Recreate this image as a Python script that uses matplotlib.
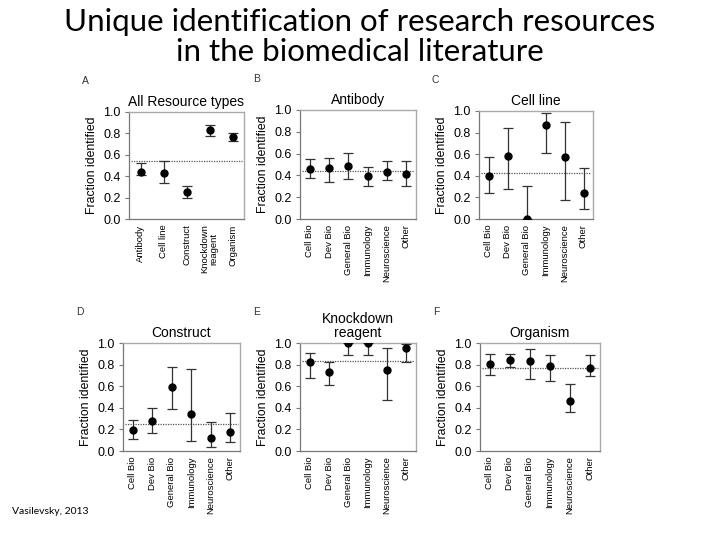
import numpy as np
import matplotlib.pyplot as plt

plt.rcParams['font.family'] = ['Liberation Sans', 'DejaVu Sans']

resource_types = ['Antibody', 'Cell line', 'Construct', 'Knockdown\nreagent', 'Organism']
fields = ['Cell Bio', 'Dev Bio', 'General Bio', 'Immunology', 'Neuroscience', 'Other']

# value, lower bound, upper bound, mean line
all_val = [0.44, 0.43, 0.25, 0.83, 0.77]
all_lo = [0.41, 0.34, 0.20, 0.78, 0.73]
all_hi = [0.52, 0.54, 0.31, 0.88, 0.80]
all_mean = 0.54

antibody_val = [0.46, 0.47, 0.49, 0.39, 0.43, 0.41]
antibody_lo = [0.38, 0.34, 0.37, 0.30, 0.36, 0.30]
antibody_hi = [0.55, 0.56, 0.61, 0.48, 0.53, 0.53]
antibody_mean = 0.44

cellline_val = [0.40, 0.58, 0.00, 0.87, 0.57, 0.24]
cellline_lo = [0.24, 0.28, 0.00, 0.61, 0.18, 0.09]
cellline_hi = [0.57, 0.84, 0.31, 0.98, 0.90, 0.47]
cellline_mean = 0.43

construct_val = [0.19, 0.28, 0.59, 0.34, 0.12, 0.18]
construct_lo = [0.11, 0.17, 0.39, 0.09, 0.04, 0.08]
construct_hi = [0.29, 0.40, 0.78, 0.76, 0.27, 0.35]
construct_mean = 0.25

knockdown_val = [0.82, 0.73, 1.00, 1.00, 0.75, 0.95]
knockdown_lo = [0.68, 0.61, 0.89, 0.89, 0.47, 0.82]
knockdown_hi = [0.91, 0.82, 1.00, 1.00, 0.95, 0.99]
knockdown_mean = 0.83

organism_val = [0.81, 0.84, 0.83, 0.79, 0.46, 0.77]
organism_lo = [0.70, 0.78, 0.67, 0.65, 0.36, 0.69]
organism_hi = [0.90, 0.90, 0.94, 0.89, 0.62, 0.89]
organism_mean = 0.77

panels = [
    ('A', 'All Resource types', resource_types, all_val, all_lo, all_hi, all_mean, [129, 112, 244, 219]),
    ('B', 'Antibody', fields, antibody_val, antibody_lo, antibody_hi, antibody_mean, [300, 110, 416, 219]),
    ('C', 'Cell line', fields, cellline_val, cellline_lo, cellline_hi, cellline_mean, [479, 111, 593, 219]),
    ('D', 'Construct', fields, construct_val, construct_lo, construct_hi, construct_mean, [123, 343, 240, 451]),
    ('E', 'Knockdown\nreagent', fields, knockdown_val, knockdown_lo, knockdown_hi, knockdown_mean, [300, 343, 416, 451]),
    ('F', 'Organism', fields, organism_val, organism_lo, organism_hi, organism_mean, [480, 343, 600, 451]),
]

W, H = 720, 540
fig = plt.figure(figsize=(7.2, 5.4), dpi=100)

title_font = ['Lato', 'DejaVu Sans']
fig.text(0.5, 1 - 22 / H, 'Unique identification of research resources',
         ha='center', va='center', fontsize=22.5, family=title_font)
fig.text(0.5, 1 - 52 / H, 'in the biomedical literature',
         ha='center', va='center', fontsize=22.5, family=title_font)
fig.text(12 / W, 1 - 512 / H, 'Vasilevsky, 2013', fontsize=7.5, va='center',
         family=title_font)

for letter, title, cats, val, lo, hi, mean, box in panels:
    x0, y0, x1, y1 = box
    ax = fig.add_axes([x0 / W, 1 - y1 / H, (x1 - x0) / W, (y1 - y0) / H])
    x = np.arange(len(cats))
    val = np.array(val)
    yerr = [val - np.array(lo), np.array(hi) - val]
    ax.hlines(mean, -0.4, len(cats) - 0.6, colors='#555555', linestyles=(0, (1, 1)), lw=0.9, zorder=1)
    ax.errorbar(x, val, yerr=yerr, fmt='o', color='black', ecolor='#333333',
                elinewidth=0.9, capsize=3.5, capthick=0.9, markersize=5, zorder=3)
    ax.set_xlim(-0.5, len(cats) - 0.5)
    ax.set_ylim(0, 1.0)
    ax.set_yticks(np.arange(0, 1.01, 0.2))
    ax.set_yticklabels(['%.1f' % t for t in np.arange(0, 1.01, 0.2)], fontsize=9)
    ax.set_xticks(x)
    ax.set_xticklabels(cats, rotation=90, fontsize=6.8, linespacing=1.0)
    ax.tick_params(axis='x', length=0, pad=4)
    ax.tick_params(axis='y', length=3, width=0.8, color='#777777', pad=3)
    ax.set_ylabel('Fraction identified', fontsize=8.8, labelpad=4)
    ax.set_title(title, fontsize=10, pad=4, linespacing=1.0)
    for s in ['top', 'right']:
        ax.spines[s].set_color('#aaaaaa')
        ax.spines[s].set_linewidth(1.0)
    for s in ['left', 'bottom']:
        ax.spines[s].set_color('#777777')
        ax.spines[s].set_linewidth(0.9)
    fig.text((x0 - 47) / W, 1 - (y0 - 31) / H, letter, fontsize=7.5, color='#333333', va='center')

fig.savefig('out.png', dpi=100)
